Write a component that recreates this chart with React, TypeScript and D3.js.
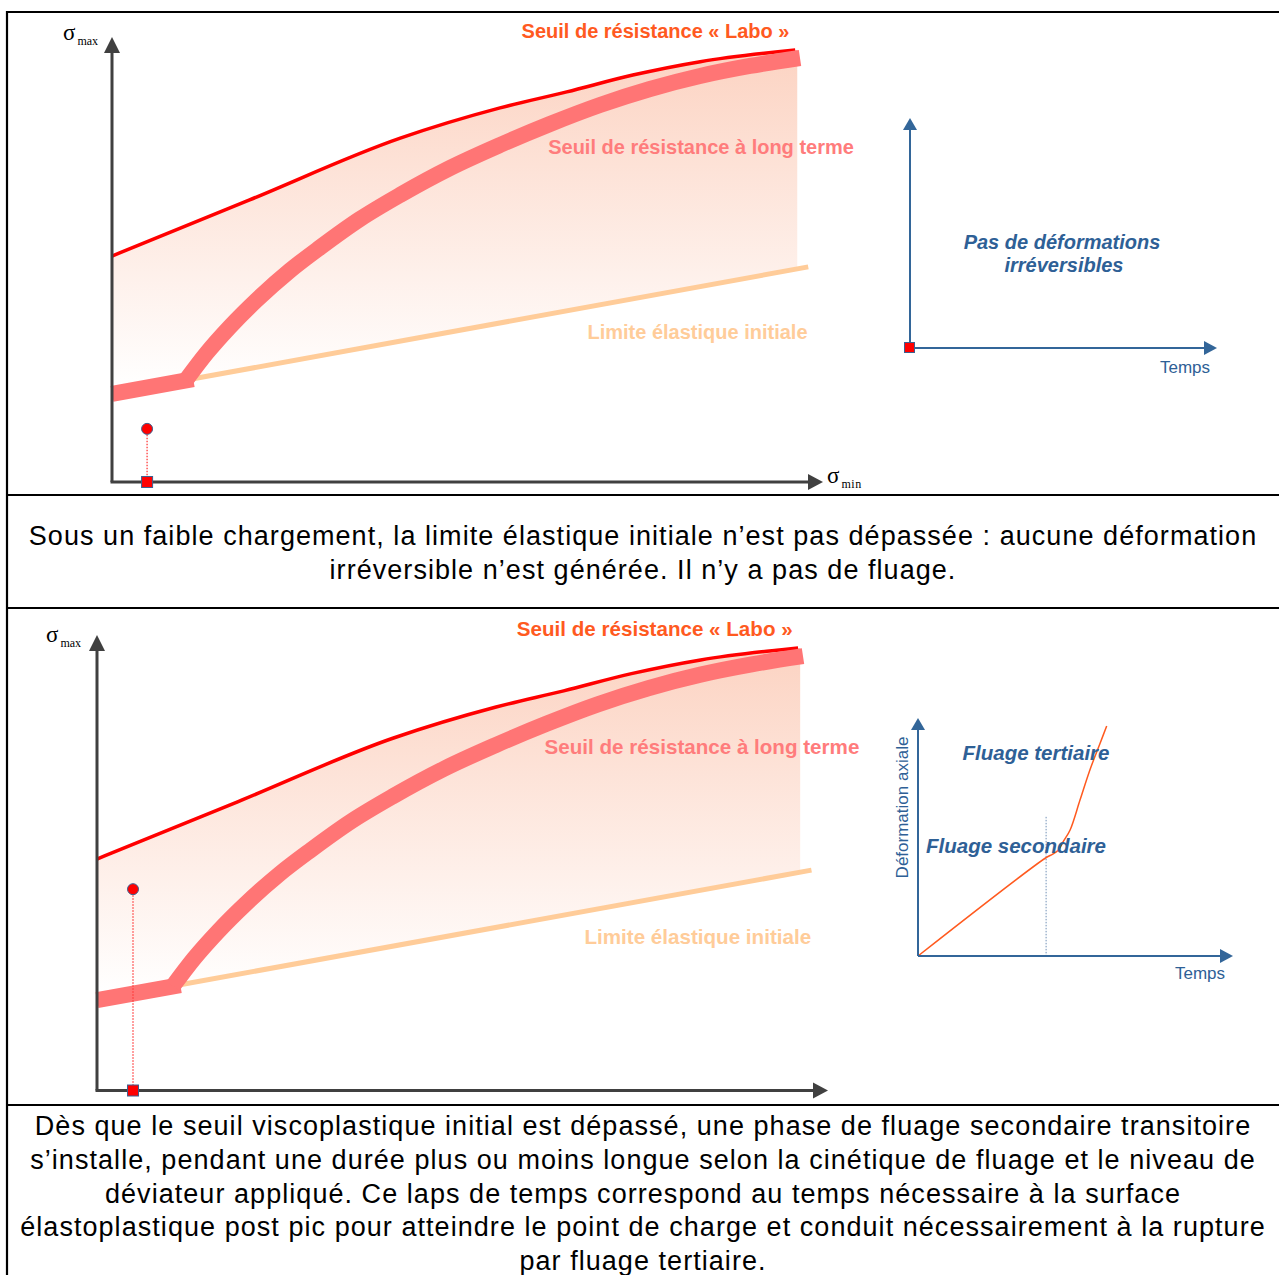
import React from 'react';
import * as d3 from 'd3';

type P = [number, number];

// ---- Main diagram data (σmin, σmax), arbitrary units 0..100 ----
const laboThreshold: P[] = [[0, 52.3], [20, 65.3], [41.9, 79.6], [56.4, 86.6], [66.1, 90.3], [75.7, 94.2], [85.5, 97.3], [99.3, 100]];
const longTermPlateau: P[] = [[0, 20.4], [11.8, 23.8]];
const longTermCurve: P[] = [
  [10.76, 23.61], [13.76, 29.86], [17.15, 35.95], [21.03, 42.13], [25.87, 48.96], [30.23, 54.28],
  [36.05, 60.88], [41.86, 66.44], [49.13, 72.69], [56.4, 78.01], [63.66, 82.87], [70.93, 87.27],
  [78.2, 90.97], [85.47, 93.98], [92.73, 96.3], [100, 98.15],
];
const elasticLimit: P[] = [[10.8, 23.6], [101.2, 49.8]];
const fillRightEdge = 99.6;
const loadTop: P = [5.1, 12.3];
const loadBottom: P = [5.1, 45.5];

// ---- Creep curve (Temps, Déformation axiale), 0..100 ----
const creepCurve: P[] = [[0, 0], [42.4, 42.5], [44.9, 44.3], [46.8, 46.1], [48.4, 49.7], [50.7, 54.8], [54, 67.8], [57.3, 80.9], [60.7, 92.5], [62.9, 100]];
const secondaryEnd: P = [42.7, 60.5];

// ---- Texts ----
const labelLabo = 'Seuil de résistance « Labo »';
const labelLongTerm = 'Seuil de résistance à long terme';
const labelElastic = 'Limite élastique initiale';
const caption1 = [
  'Sous un faible chargement, la limite élastique initiale n’est pas dépassée : aucune déformation',
  'irréversible n’est générée. Il n’y a pas de fluage.',
];
const caption2 = [
  'Dès que le seuil viscoplastique initial est dépassé, une phase de fluage secondaire transitoire',
  's’installe, pendant une durée plus ou moins longue selon la cinétique de fluage et le niveau de',
  'déviateur appliqué. Ce laps de temps correspond au temps nécessaire à la surface',
  'élastoplastique post pic pour atteindre le point de charge et conduit nécessairement à la rupture',
  'par fluage tertiaire.',
];

const W = 1279;
const H = 1275;
const SANS = '"Liberation Sans", Arial, Helvetica, sans-serif';
const SERIF = '"Liberation Serif", "Times New Roman", serif';
const AXIS = '#404040';
const BLUE = '#336699';
const BLUE_TXT = '#2E6096';

function elasticAt(x: number) {
  const [[x0, y0], [x1, y1]] = elasticLimit;
  return y0 + ((x - x0) * (y1 - y0)) / (x1 - x0);
}

type PanelCfg = {
  id: string;
  x0: number; x100: number; y0: number; y100: number;
  yTip: number; xTip: number;
  font: number;
  load: P;
  sigmaMax: [number, number];
  sigmaMin?: [number, number];
};

function MainPanel({ c }: { c: PanelCfg }) {
  const x = d3.scaleLinear().domain([0, 100]).range([c.x0, c.x100]);
  const y = d3.scaleLinear().domain([0, 100]).range([c.y0, c.y100]);
  const curve = d3.line<P>().x(d => x(d[0])).y(d => y(d[1])).curve(d3.curveMonotoneX);
  const lin = d3.line<P>().x(d => x(d[0])).y(d => y(d[1]));
  const fillPath =
    curve([...laboThreshold, [fillRightEdge, 100]]) +
    `L${x(fillRightEdge)},${y(elasticAt(fillRightEdge))}L${x(0)},${y(elasticAt(0))}Z`;
  const gid = `grad-${c.id}`;
  const lx = x(c.load[0]);
  const ly = y(c.load[1]);
  return (
    <g>
      <defs>
        <linearGradient id={gid} gradientUnits="userSpaceOnUse" x1={0} y1={y(100)} x2={0} y2={y(22)}>
          <stop offset="0" stopColor="#FCD3C2" />
          <stop offset="1" stopColor="#FFFFFF" />
        </linearGradient>
      </defs>
      <path d={fillPath} fill={`url(#${gid})`} />
      <path d={lin(elasticLimit) || ''} fill="none" stroke="#FFCC99" strokeWidth={5} />
      <path d={curve(laboThreshold) || ''} fill="none" stroke="#FF0000" strokeWidth={3.5} />
      <path d={lin(longTermPlateau) || ''} fill="none" stroke="#FF7575" strokeWidth={16} />
      <path d={curve(longTermCurve) || ''} fill="none" stroke="#FF7575" strokeWidth={16} />
      {/* axes */}
      <line x1={c.x0} y1={c.y0} x2={c.x0} y2={c.yTip + 14} stroke={AXIS} strokeWidth={3} />
      <path d={`M${c.x0},${c.yTip}L${c.x0 - 8},${c.yTip + 16}L${c.x0 + 8},${c.yTip + 16}Z`} fill={AXIS} />
      <line x1={c.x0 - 1.5} y1={c.y0} x2={c.xTip - 14} y2={c.y0} stroke={AXIS} strokeWidth={3} />
      <path d={`M${c.xTip},${c.y0}L${c.xTip - 15},${c.y0 - 8}L${c.xTip - 15},${c.y0 + 8}Z`} fill={AXIS} />
      {/* load point */}
      <line x1={lx} y1={ly} x2={lx} y2={c.y0} stroke="#FF3B3B" strokeWidth={1.3} strokeDasharray="1.5,1.5" />
      <circle cx={lx} cy={ly} r={5.5} fill="#FF0000" stroke="#3F5F8F" strokeWidth={1} />
      <rect x={lx - 5.5} y={c.y0 - 5.5} width={11} height={11} fill="#FF0000" stroke="#3F5F8F" strokeWidth={1} />
      {/* labels */}
      <text x={x(79)} y={y(102.8)} textAnchor="middle" fontFamily={SANS} fontWeight="bold" fontSize={c.font} fill="#FF5A1F">{labelLabo}</text>
      <text x={x(63.4)} y={y(76)} textAnchor="start" fontFamily={SANS} fontWeight="bold" fontSize={c.font} fill="#FF7C7C">{labelLongTerm}</text>
      <text x={x(85.1)} y={y(33.1)} textAnchor="middle" fontFamily={SANS} fontWeight="bold" fontSize={c.font} fill="#FFCC99">{labelElastic}</text>
      <text x={c.sigmaMax[0]} y={c.sigmaMax[1]} fontFamily={SERIF} fill="#000">
        <tspan fontSize={23}>σ</tspan>
        <tspan fontSize={12} dx={2} dy={5}>max</tspan>
      </text>
      {c.sigmaMin && (
        <text x={c.sigmaMin[0]} y={c.sigmaMin[1]} fontFamily={SERIF} fill="#000">
          <tspan fontSize={23}>σ</tspan>
          <tspan fontSize={12} dx={2} dy={5} letterSpacing={0.6}>min</tspan>
        </text>
      )}
    </g>
  );
}

function SmallAxes({ ox, oy, yTip, xTip }: { ox: number; oy: number; yTip: number; xTip: number }) {
  return (
    <g>
      <line x1={ox} y1={oy} x2={ox} y2={yTip + 10} stroke={BLUE} strokeWidth={2} />
      <path d={`M${ox},${yTip}L${ox - 7},${yTip + 12}L${ox + 7},${yTip + 12}Z`} fill={BLUE} />
      <line x1={ox} y1={oy} x2={xTip - 12} y2={oy} stroke={BLUE} strokeWidth={2} />
      <path d={`M${xTip},${oy}L${xTip - 13},${oy - 7}L${xTip - 13},${oy + 7}Z`} fill={BLUE} />
    </g>
  );
}

export default function App() {
  const top: PanelCfg = {
    id: 'top', x0: 112, x100: 800, y0: 482, y100: 50, yTip: 37, xTip: 823, font: 20,
    load: loadTop, sigmaMax: [63, 40], sigmaMin: [827, 483],
  };
  const bottom: PanelCfg = {
    id: 'bot', x0: 97, x100: 803, y0: 1090.5, y100: 648, yTip: 635, xTip: 828, font: 20.6,
    load: loadBottom, sigmaMax: [46, 642],
  };
  const cx = d3.scaleLinear().domain([0, 100]).range([918, 1218]);
  const cy = d3.scaleLinear().domain([0, 100]).range([956, 726]);
  const creep = d3.line<P>().x(d => cx(d[0])).y(d => cy(d[1])).curve(d3.curveCatmullRom.alpha(0.5));

  return (
    <svg width={W} height={H} style={{ position: 'absolute', left: 0, top: 0, background: '#fff' }}>
      <rect x={0} y={0} width={W} height={H} fill="#fff" />
      {/* table borders */}
      <g stroke="#000" strokeWidth={2.2}>
        <line x1={7} y1={12} x2={W} y2={12} />
        <line x1={7} y1={11} x2={7} y2={H} />
        <line x1={7} y1={495} x2={W} y2={495} />
        <line x1={7} y1={608} x2={W} y2={608} />
        <line x1={7} y1={1105} x2={W} y2={1105} />
      </g>

      <MainPanel c={top} />
      <MainPanel c={bottom} />

      {/* top small chart */}
      <SmallAxes ox={910} oy={348} yTip={118} xTip={1217} />
      <rect x={904.5} y={342.5} width={10} height={10} fill="#FF0000" stroke="#3F5F8F" strokeWidth={1} />
      <text x={1062} y={249} textAnchor="middle" fontFamily={SANS} fontWeight="bold" fontStyle="italic" fontSize={20} fill={BLUE_TXT}>Pas de déformations</text>
      <text x={1064} y={272} textAnchor="middle" fontFamily={SANS} fontWeight="bold" fontStyle="italic" fontSize={20} fill={BLUE_TXT}>irréversibles</text>
      <text x={1185} y={373} textAnchor="middle" fontFamily={SANS} fontSize={17} fill={BLUE_TXT}>Temps</text>

      {/* bottom small chart */}
      <line x1={cx(secondaryEnd[0])} y1={cy(secondaryEnd[1])} x2={cx(secondaryEnd[0])} y2={cy(0)} stroke="#6F8FB5" strokeWidth={1} strokeDasharray="1.5,1.5" />
      <path d={creep(creepCurve) || ''} fill="none" stroke="#FF5A1F" strokeWidth={1.5} />
      <SmallAxes ox={918} oy={956} yTip={718} xTip={1233} />
      <text transform="translate(908,807.5) rotate(-90)" textAnchor="middle" fontFamily={SANS} fontSize={17} fill={BLUE_TXT}>Déformation axiale</text>
      <text x={1036} y={760} textAnchor="middle" fontFamily={SANS} fontWeight="bold" fontStyle="italic" fontSize={20.5} fill={BLUE_TXT}>Fluage tertiaire</text>
      <text x={1016} y={853} textAnchor="middle" fontFamily={SANS} fontWeight="bold" fontStyle="italic" fontSize={20.5} fill={BLUE_TXT}>Fluage secondaire</text>
      <text x={1200} y={979} textAnchor="middle" fontFamily={SANS} fontSize={17} fill={BLUE_TXT}>Temps</text>

      {/* captions */}
      {caption1.map((t, i) => (
        <text key={'c1' + i} x={643} y={545 + i * 34} textAnchor="middle" fontFamily={SANS} fontSize={27} letterSpacing={1.05} fill="#000">{t}</text>
      ))}
      {caption2.map((t, i) => (
        <text key={'c2' + i} x={643} y={1135 + i * 33.8} textAnchor="middle" fontFamily={SANS} fontSize={27} letterSpacing={1.05} fill="#000">{t}</text>
      ))}
    </svg>
  );
}
